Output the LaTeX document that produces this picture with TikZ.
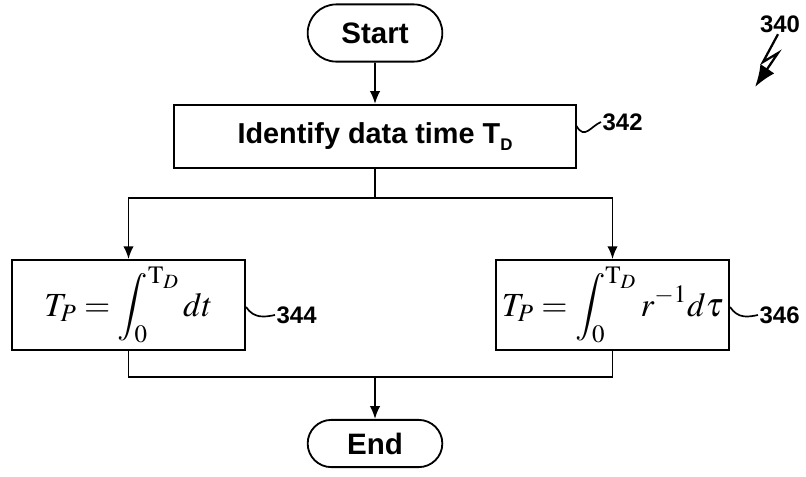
\documentclass[tikz,border=0pt]{standalone}
\usepackage{amsmath}
\usepackage{mathptmx}
\usepackage[no-math]{fontspec}
\setsansfont{Liberation Sans}
\usetikzlibrary{arrows.meta}
\usetikzlibrary{shapes.misc}

\begin{document}
\begin{tikzpicture}[x=0.025cm,y=-0.025cm]
			\tikzset{term/.style={shape = rounded rectangle, draw, line width = 1.3pt, minimum width = 3.6cm, minimum height = 1.3cm, font = \sffamily\bfseries\fontsize{21}{24}\selectfont}}
			\tikzset{procbox/.style={shape = rectangle, draw, line width = 1.3pt, inner sep = 0pt}}
			\tikzset{edge/.style={-{Latex[length = 3.2mm, width = 2.6mm]}, line width = 1.3pt}}
			\tikzset{lead/.style={line width = 1.2pt}}
			\tikzset{refnum/.style={inner sep = 1pt, font = \sffamily\bfseries\fontsize{17}{19}\selectfont}}
			\useasboundingbox (0, 0) rectangle (806, 476);
			%vertices
			\node[term, minimum height = 1.43cm] (start) at (375, 33) {Start};
			\node[procbox, minimum width = 10.03cm, minimum height = 1.58cm, font = \sffamily\bfseries\fontsize{20.5}{23}\selectfont] (ident) at (375, 136.5) {Identify data time T\raisebox{-0.5ex}{\fontsize{12}{13}\selectfont D}};
			\node[procbox, minimum width = 5.83cm, minimum height = 2.25cm, font = \fontsize{24}{28}\selectfont] (tp1) at (128.5, 305) {$T_P = \displaystyle\int_0^{\mathrm{T}_D} dt$};
			\node[procbox, minimum width = 5.83cm, minimum height = 2.25cm, font = \fontsize{24}{28}\selectfont] (tp2) at (612.5, 305) {$T_P = \displaystyle\int_0^{\mathrm{T}_D} r^{-1} d\tau$};
			\node[term, minimum height = 1.18cm] (end) at (375, 443.5) {End};
			\coordinate (split) at (375, 198);
			\coordinate (merge) at (375, 377);
			%labels
			\node[refnum, anchor = west] (r342) at (601, 122) {342};
			\node[refnum, anchor = west] (r344) at (275, 315) {344};
			\node[refnum, anchor = west] (r346) at (758, 315) {346};
			\node[refnum, font = \sffamily\bfseries\fontsize{17}{19}\selectfont] (r340) at (780, 24) {340};
			\coordinate (bolt1) at (763, 62);
			\coordinate (bolt2) at (778, 53);
			\coordinate (bolt3) at (755, 87);
			%edges
			\draw[edge] (start) -- (ident);
			\draw[lead, line width = 1.3pt] (ident.south) -- (split);
			\draw[edge] (split) -| (tp1.north);
			\draw[edge] (split) -| (tp2.north);
			\draw[lead, line width = 1.3pt] (tp1.south) |- (merge) -| (tp2.south);
			\draw[edge] (merge) -- (end);
			\draw[lead] ([yshift = 0.26cm]ident.east) .. controls +(8, 14) and +(-10, 4) .. (r342.west);
			\draw[lead] ([yshift = -0.05cm]tp1.east) .. controls +(8, 12) and +(-10, 2) .. (r344.west);
			\draw[lead] ([yshift = -0.05cm]tp2.east) .. controls +(8, 12) and +(-10, 2) .. (r346.west);
			\draw[-{Latex[length = 5.5mm, width = 4.2mm]}, line width = 1.6pt] ([xshift = -0.05cm]r340.south) -- (bolt1) -- (bolt2) -- (bolt3);
\end{tikzpicture}
\end{document}
